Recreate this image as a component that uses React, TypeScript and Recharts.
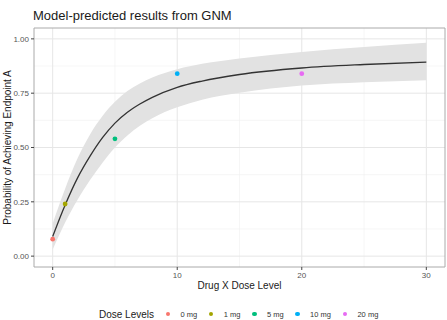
import React from 'react';
import {
  ComposedChart,
  Area,
  Line,
  Scatter,
  XAxis,
  YAxis,
  CartesianGrid,
  ReferenceArea,
  Cell,
} from 'recharts';

// Fitted dose-response curve with its confidence band
const curveDose = [0, 1, 2, 3, 4, 5, 6, 7, 8, 10, 12, 15, 20, 25, 30];
const curveFit = [0.09, 0.235, 0.36, 0.46, 0.545, 0.612, 0.662, 0.7, 0.731, 0.777, 0.806, 0.836, 0.866, 0.882, 0.893];
const bandUpper = [0.15, 0.31, 0.45, 0.56, 0.645, 0.71, 0.76, 0.795, 0.822, 0.86, 0.885, 0.91, 0.94, 0.963, 0.982];
const bandLower = [0.03, 0.155, 0.26, 0.35, 0.43, 0.5, 0.555, 0.6, 0.635, 0.685, 0.72, 0.752, 0.785, 0.8, 0.81];

// Observed response at each dose level
const doseLevels = ['0 mg', '1 mg', '5 mg', '10 mg', '20 mg'];
const observedDose = [0, 1, 5, 10, 20];
const observedProb = [0.078, 0.24, 0.54, 0.84, 0.84];
const doseColors = ['#F8766D', '#A3A500', '#00BF7D', '#00B0F6', '#E76BF3'];

const xTicks = [0, 10, 20, 30];
const xMinor = [5, 15, 25];
const yTicks = [0, 0.25, 0.5, 0.75, 1];
const yMinor = [0.125, 0.375, 0.625, 0.875];

const curveRows = curveDose.map((d, i) => ({
  dose: d,
  fit: curveFit[i],
  band: [bandLower[i], bandUpper[i]],
}));

const pointRows = observedDose.map((d, i) => ({
  dose: d,
  prob: observedProb[i],
  level: doseLevels[i],
}));

const FONT = '"Liberation Sans", Arial, Helvetica, sans-serif';
const X_DOMAIN: [number, number] = [-1.5, 31.5];
const Y_DOMAIN: [number, number] = [-0.05, 1.05];

const YTitle = (props: any) => {
  const vb = props.viewBox || { x: 0, y: 28, width: 34, height: 239 };
  const cx = 11;
  const cy = vb.y + vb.height / 2;
  return (
    <text
      x={cx}
      y={cy}
      transform={`rotate(-90 ${cx} ${cy})`}
      textAnchor="middle"
      fontSize={10}
      fill="#1a1a1a"
      fontFamily={FONT}
    >
      Probability of Achieving Endpoint A
    </text>
  );
};

const XTitle = (props: any) => {
  const vb = props.viewBox || { x: 34, y: 267, width: 411, height: 53 };
  return (
    <text
      x={vb.x + vb.width / 2}
      y={vb.y + 22}
      textAnchor="middle"
      fontSize={10}
      fill="#1a1a1a"
      fontFamily={FONT}
    >
      Drug X Dose Level
    </text>
  );
};

export default function App() {
  return (
    <div
      style={{
        position: 'absolute',
        left: 0,
        top: 0,
        width: 447,
        height: 320,
        background: '#fff',
        fontFamily: FONT,
      }}
    >
      <div
        style={{
          position: 'absolute',
          left: 33,
          top: 8,
          fontSize: 13,
          color: '#1a1a1a',
          whiteSpace: 'nowrap',
          lineHeight: '15px',
        }}
      >
        Model-predicted results from GNM
      </div>

      <ComposedChart
        width={447}
        height={320}
        data={curveRows}
        margin={{ top: 28, right: 2, left: 0, bottom: 0 }}
      >
        <CartesianGrid
          stroke="#f0f0f0"
          strokeWidth={0.6}
          horizontalValues={yMinor}
          verticalValues={xMinor}
        />
        <CartesianGrid
          stroke="#e6e6e6"
          strokeWidth={1}
          horizontalValues={yTicks}
          verticalValues={xTicks}
        />
        <XAxis
          type="number"
          dataKey="dose"
          domain={X_DOMAIN}
          ticks={xTicks}
          allowDataOverflow
          height={53}
          tickSize={3}
          axisLine={false}
          tickLine={{ stroke: '#444' }}
          tick={{ fontSize: 8, fill: '#555', fontFamily: FONT }}
          label={<XTitle />}
        />
        <YAxis
          type="number"
          domain={Y_DOMAIN}
          ticks={yTicks}
          allowDataOverflow
          width={34}
          tickSize={3}
          axisLine={false}
          tickLine={{ stroke: '#444' }}
          tickFormatter={(v: number) => v.toFixed(2)}
          tick={{ fontSize: 8, fill: '#555', fontFamily: FONT }}
          label={<YTitle />}
        />
        <Area
          type="monotone"
          dataKey="band"
          stroke="none"
          fill="#e2e2e2"
          fillOpacity={1}
          isAnimationActive={false}
          activeDot={false}
        />
        <Line
          type="monotone"
          dataKey="fit"
          stroke="#333"
          strokeWidth={1.3}
          dot={false}
          activeDot={false}
          isAnimationActive={false}
        />
        <Scatter data={pointRows} dataKey="prob" isAnimationActive={false} shape={(p: any) => (
          <circle cx={p.cx} cy={p.cy} r={2.4} fill={p.fill} />
        )}>
          {pointRows.map((r, i) => (
            <Cell key={r.level} fill={doseColors[i]} />
          ))}
        </Scatter>
        <ReferenceArea
          x1={X_DOMAIN[0]}
          x2={X_DOMAIN[1]}
          y1={Y_DOMAIN[0]}
          y2={Y_DOMAIN[1]}
          fill="none"
          stroke="#aaaaaa"
          strokeWidth={1}
        />
      </ComposedChart>

      <div
        style={{
          position: 'absolute',
          left: 99,
          top: 306,
          height: 16,
          display: 'flex',
          alignItems: 'center',
          whiteSpace: 'nowrap',
        }}
      >
        <span style={{ fontSize: 10, color: '#1a1a1a', marginRight: 7 }}>Dose Levels</span>
        {doseLevels.map((lvl, i) => (
          <span key={lvl} style={{ display: 'flex', alignItems: 'center', marginRight: 7 }}>
            <span style={{ width: 14, display: 'flex', justifyContent: 'center' }}>
              <span
                style={{
                  width: 4.5,
                  height: 4.5,
                  borderRadius: '50%',
                  background: doseColors[i],
                  display: 'inline-block',
                }}
              />
            </span>
            <span style={{ fontSize: 7.5, color: '#333', marginLeft: 5.5 }}>{lvl}</span>
          </span>
        ))}
      </div>
    </div>
  );
}
